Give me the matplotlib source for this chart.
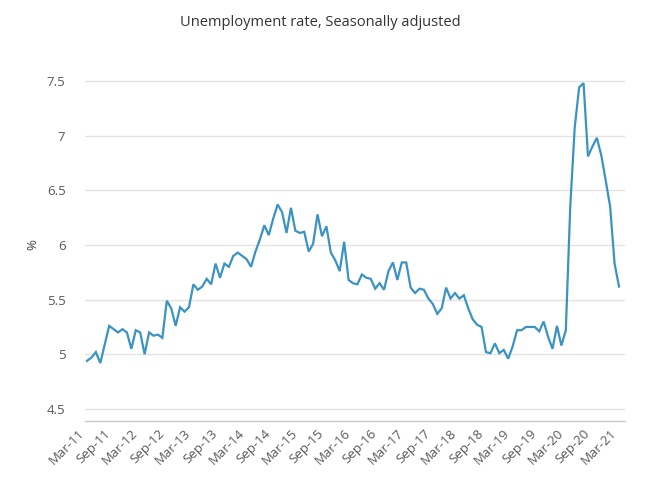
import numpy as np
from matplotlib import pyplot as plt

# monthly unemployment rate, Mar-11 .. Mar-21 (seasonally adjusted, %)
rate = [
    4.94, 4.97, 5.02, 4.92, 5.09, 5.26, 5.23, 5.20, 5.23, 5.20,
    5.05, 5.22, 5.20, 5.00, 5.20, 5.17, 5.18, 5.15, 5.49, 5.42,
    5.26, 5.43, 5.39, 5.43, 5.64, 5.59, 5.62, 5.69, 5.64, 5.83,
    5.70, 5.83, 5.80, 5.90, 5.93, 5.90, 5.87, 5.80, 5.94, 6.05,
    6.18, 6.09, 6.24, 6.37, 6.30, 6.11, 6.34, 6.13, 6.11, 6.12,
    5.94, 6.01, 6.28, 6.08, 6.17, 5.93, 5.86, 5.76, 6.03, 5.68,
    5.65, 5.64, 5.73, 5.70, 5.69, 5.60, 5.65, 5.59, 5.76, 5.84,
    5.68, 5.84, 5.84, 5.61, 5.56, 5.60, 5.59, 5.51, 5.46, 5.37,
    5.42, 5.61, 5.51, 5.56, 5.51, 5.54, 5.42, 5.32, 5.27, 5.25,
    5.02, 5.01, 5.10, 5.01, 5.04, 4.96, 5.07, 5.22, 5.22, 5.25,
    5.25, 5.25, 5.21, 5.30, 5.16, 5.05, 5.26, 5.08, 5.22, 6.35,
    7.07, 7.44, 7.48, 6.81, 6.90, 6.98, 6.82, 6.59, 6.35, 5.83,
    5.62,
]

tick_labels = ['Mar-11', 'Sep-11', 'Mar-12', 'Sep-12', 'Mar-13', 'Sep-13',
               'Mar-14', 'Sep-14', 'Mar-15', 'Sep-15', 'Mar-16', 'Sep-16',
               'Mar-17', 'Sep-17', 'Mar-18', 'Sep-18', 'Mar-19', 'Sep-19',
               'Mar-20', 'Sep-20', 'Mar-21']
y_ticks = [4.5, 5, 5.5, 6, 6.5, 7, 7.5]
y_tick_labels = ['4.5', '5', '5.5', '6', '6.5', '7', '7.5']

plt.rcParams['font.family'] = ['Open Sans', 'DejaVu Sans']

fig = plt.figure(figsize=(6.5, 4.88), dpi=100)
ax = fig.add_axes([85/650, 1 - 421/488, 540/650, (421 - 70)/488])

x = np.arange(len(rate))
ax.plot(x, rate, color='#3A93C3', lw=1.6, solid_joinstyle='miter')

ax.set_xlim(-0.45, 121.35)
ax.set_ylim(4.39, 7.6)

ax.set_yticks(y_ticks)
ax.set_yticklabels(y_tick_labels)
ax.set_xticks(np.arange(0, len(rate), 6))
ax.set_xticklabels(tick_labels, rotation=45, ha='right')

ax.grid(axis='y', color='#e3e3e3', lw=1)
ax.set_axisbelow(True)
for s in ['left', 'right', 'top']:
    ax.spines[s].set_visible(False)
ax.spines['bottom'].set_color('#c8c8c8')
ax.spines['bottom'].set_linewidth(1)

ax.tick_params(axis='y', length=0, pad=14, labelsize=9.5, labelcolor='#595959')
ax.tick_params(axis='x', length=0, pad=4, labelsize=9.5, labelcolor='#595959')

fig.text(33/650, 1 - 245/488, '%', rotation=90, ha='center', va='center',
         fontsize=9.5, color='#404040')
fig.text(320/650, 1 - 22/488, 'Unemployment rate, Seasonally adjusted',
         ha='center', va='center', fontsize=10.5, color='#333333')

fig.savefig('out.png', dpi=100)
